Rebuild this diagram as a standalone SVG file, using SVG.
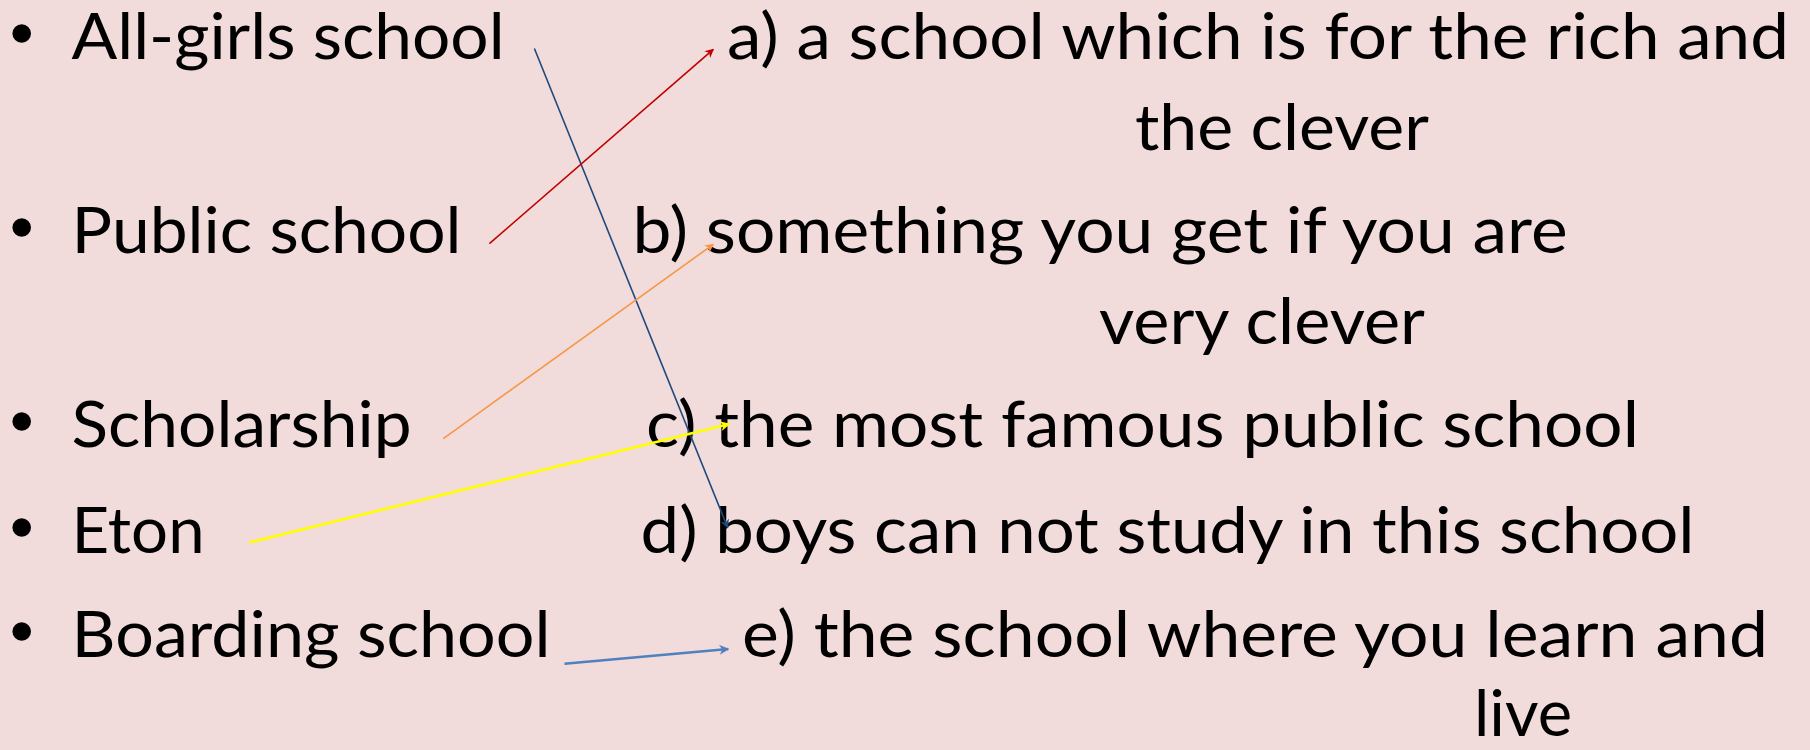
<svg xmlns="http://www.w3.org/2000/svg" width="1810" height="750" viewBox="0 0 1810 750">
<style>
.t{font-family:Lato,"Open Sans","Liberation Sans",sans-serif;font-size:63px;fill:#000}
.b{fill:#000}
.c{fill:none}
</style>
<defs>
<marker id="mr" viewBox="0 0 10 10" refX="9" refY="5" markerWidth="10" markerHeight="9" markerUnits="userSpaceOnUse" orient="auto"><path d="M0,0 L10,5 L0,10 L3,5 Z" fill="#C00000"/></marker>
<marker id="mo" viewBox="0 0 10 10" refX="9" refY="5" markerWidth="10" markerHeight="9" markerUnits="userSpaceOnUse" orient="auto"><path d="M0,0 L10,5 L0,10 L3,5 Z" fill="#F79646"/></marker>
<marker id="my" viewBox="0 0 10 10" refX="9" refY="5" markerWidth="12" markerHeight="10" markerUnits="userSpaceOnUse" orient="auto"><path d="M0,0 L10,5 L0,10 L3,5 Z" fill="#FFFF00"/></marker>
<marker id="mn" viewBox="0 0 10 10" refX="9" refY="5" markerWidth="10" markerHeight="9" markerUnits="userSpaceOnUse" orient="auto"><path d="M0,0 L10,5 L0,10 L3,5 Z" fill="#1F497D"/></marker>
<marker id="mb" viewBox="0 0 10 10" refX="9" refY="5" markerWidth="12" markerHeight="10" markerUnits="userSpaceOnUse" orient="auto"><path d="M0,0 L10,5 L0,10 L3,5 Z" fill="#4F81BD"/></marker>
</defs>
<rect width="1810" height="750" fill="#F2DCDB"/>
<g id="left-1"><circle class="b" cx="21.7" cy="33.5" r="9.3"/><text class="t" x="71.6" y="59" textLength="433" lengthAdjust="spacingAndGlyphs">All-girls school</text></g>
<g id="left-2"><circle class="b" cx="21.7" cy="227.5" r="9.3"/><text class="t" x="71.6" y="253" textLength="390" lengthAdjust="spacingAndGlyphs">Public school</text></g>
<g id="left-3"><circle class="b" cx="21.7" cy="421.5" r="9.3"/><text class="t" x="71.6" y="447" textLength="340" lengthAdjust="spacingAndGlyphs">Scholarship</text></g>
<g id="left-4"><circle class="b" cx="21.7" cy="527.5" r="9.3"/><text class="t" x="71.6" y="553" textLength="133" lengthAdjust="spacingAndGlyphs">Eton</text></g>
<g id="left-5"><circle class="b" cx="21.7" cy="631.5" r="9.3"/><text class="t" x="71.6" y="657" textLength="479" lengthAdjust="spacingAndGlyphs">Boarding school</text></g>
<g id="right-a"><text class="t" x="727" y="59" textLength="1062" lengthAdjust="spacingAndGlyphs">a) a school which is for the rich and</text><text class="t" x="1135" y="150" textLength="294" lengthAdjust="spacingAndGlyphs">the clever</text></g>
<g id="right-b"><text class="t" x="632.6" y="253" textLength="935" lengthAdjust="spacingAndGlyphs">b) something you get if you are</text><text class="t" x="1099" y="344" textLength="326" lengthAdjust="spacingAndGlyphs">very clever</text></g>
<g id="right-c"><text class="t" x="646" y="447" textLength="993" lengthAdjust="spacingAndGlyphs">c) the most famous public school</text></g>
<g id="right-d"><text class="t" x="640.6" y="553" textLength="1054" lengthAdjust="spacingAndGlyphs">d) boys can not study in this school</text></g>
<g id="right-e"><text class="t" x="742" y="657" textLength="1026" lengthAdjust="spacingAndGlyphs">e) the school where you learn and</text><text class="t" x="1474" y="736" textLength="98" lengthAdjust="spacingAndGlyphs">live</text></g>
<g id="connectors" class="c">
<line x1="534.4" y1="48.5" x2="727.7" y2="527.7" stroke="#1F497D" stroke-width="1.6" marker-end="url(#mn)"/>
<line x1="489.4" y1="243.6" x2="713.3" y2="49.3" stroke="#C00000" stroke-width="1.6" marker-end="url(#mr)"/>
<line x1="443.3" y1="438.6" x2="713.3" y2="244.3" stroke="#F79646" stroke-width="1.6" marker-end="url(#mo)"/>
<line x1="249.3" y1="542.5" x2="729.3" y2="424" stroke="#FFFF00" stroke-width="2.6" marker-end="url(#my)"/>
<line x1="564.5" y1="663.7" x2="728.3" y2="649" stroke="#4F81BD" stroke-width="2.4" marker-end="url(#mb)"/>
</g>
</svg>
